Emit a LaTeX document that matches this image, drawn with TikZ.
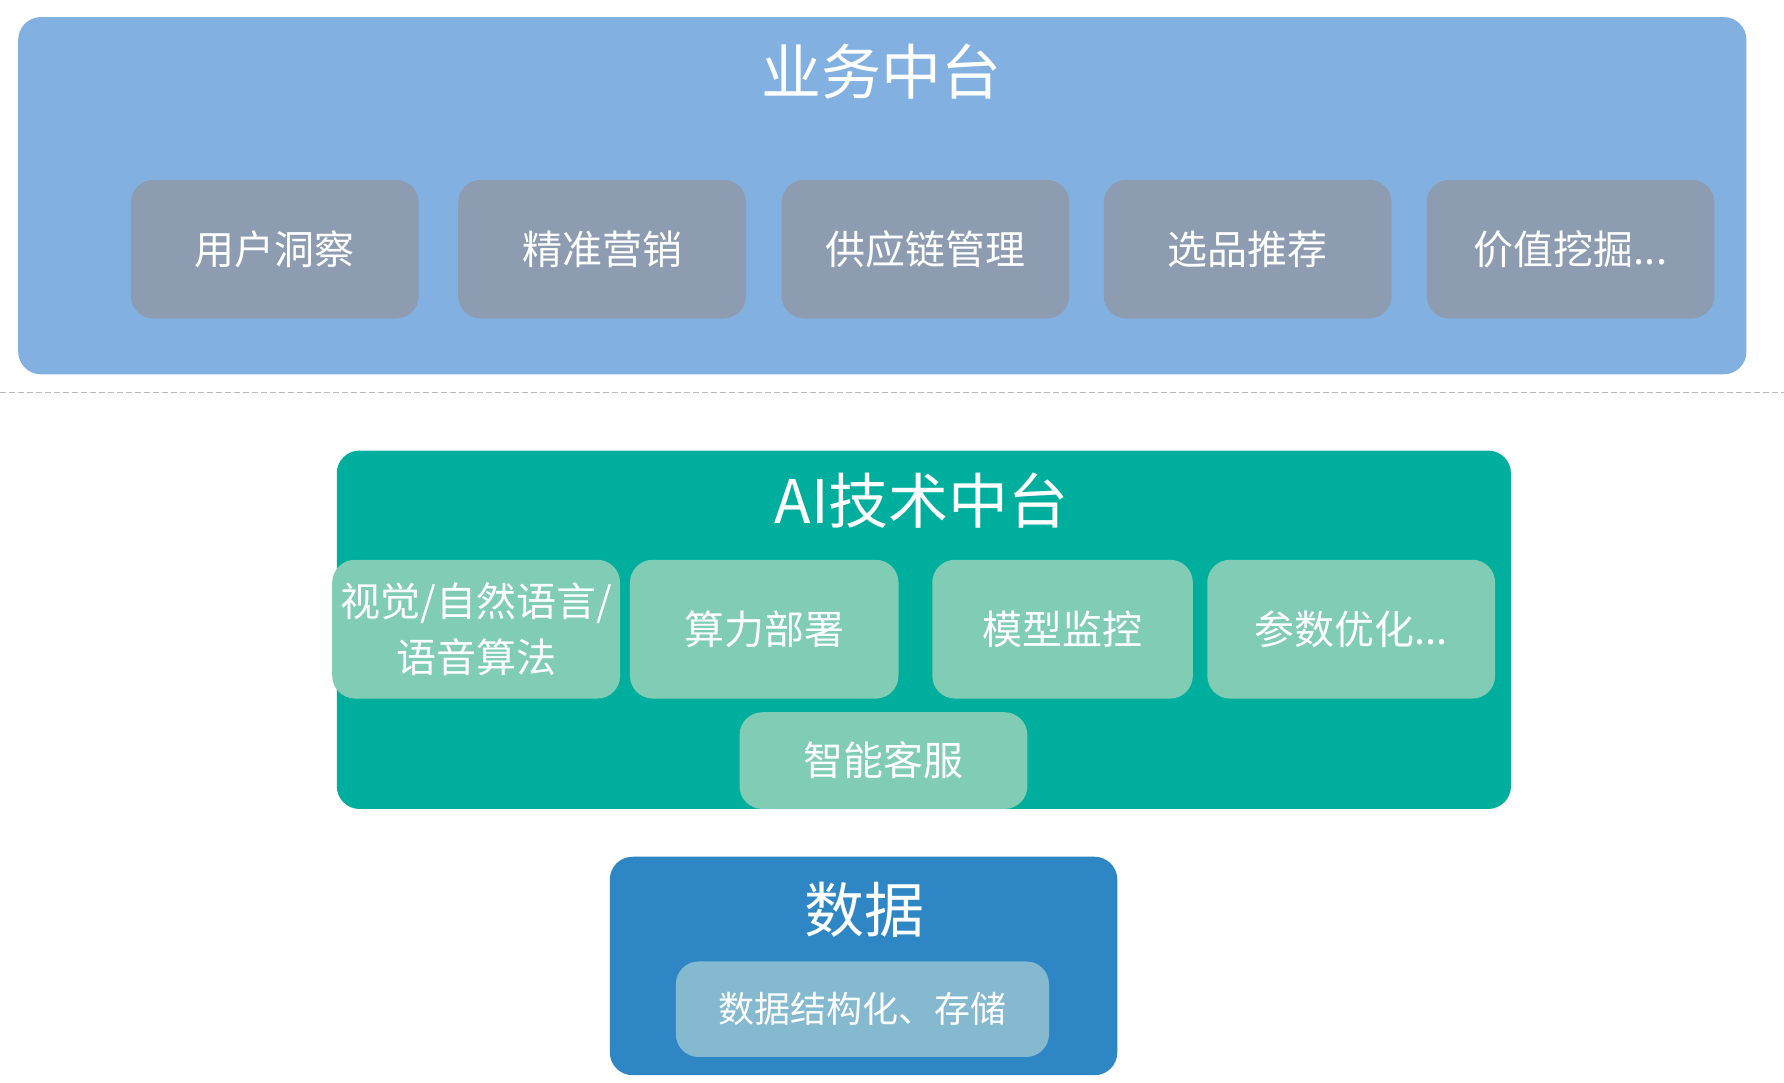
\documentclass[tikz,border=0pt]{standalone}
\usepackage{fontspec}
\setmainfont{Noto Sans CJK SC}
\usetikzlibrary{positioning}
\usepackage{xcolor}
\definecolor{bizblue}{RGB}{130,177,225}
\definecolor{bizgray}{RGB}{142,156,178}
\definecolor{aiteal}{RGB}{0,174,157}
\definecolor{aimint}{RGB}{128,204,181}
\definecolor{datablue}{RGB}{46,134,196}
\definecolor{datalight}{RGB}{132,185,207}
\definecolor{cutgray}{RGB}{185,185,185}

\begin{document}
\begin{tikzpicture}[every node/.style={text=white, inner sep=0pt},
  panel/.style={rounded corners=0.4cm, minimum width=#1},
  paneltitle/.style={font=\fontsize{30}{36}\selectfont},
  bizitem/.style={rounded corners=0.4cm, fill=bizgray, minimum width=5.06cm, minimum height=2.44cm, font=\fontsize{20}{28}\selectfont},
  aiitem/.style={rounded corners=0.4cm, fill=aimint, minimum width=#1, minimum height=2.44cm, font=\fontsize{20}{28}\selectfont, align=center}]
\useasboundingbox (0,0) rectangle (31.36,-19.02);

% business layer
\node[panel=30.38cm, fill=bizblue, minimum height=6.28cm] (biz) at (15.51,-3.44) {};
\node[paneltitle] (biztitle) at (15.5,-1.26) {业务中台};
\node[bizitem] (b1) at (4.83,-4.38) {用户洞察};
\node[bizitem, right=0.68cm of b1] (b2) {精准营销};
\node[bizitem, right=0.61cm of b2] (b3) {供应链管理};
\node[bizitem, right=0.59cm of b3] (b4) {选品推荐};
\node[bizitem, right=0.6cm of b4] (b5) {价值挖掘...};

\coordinate (cutl) at (0,-6.9);
\coordinate (cutr) at (31.36,-6.9);
\draw[cutgray, dash pattern=on 3pt off 1.5pt, line width=0.5pt] (cutl) -- (cutr);

% AI layer
\node[panel=20.64cm, fill=aiteal, minimum height=6.30cm] (ai) at (16.24,-11.07) {};
\node[paneltitle] (aititle) at (16.2,-8.8) {AI技术中台};
\node[aiitem=5.06cm] (a1) at (8.37,-11.06) {视觉/自然语言/\\语音算法};
\node[aiitem=4.72cm, right=0.16cm of a1] (a2) {算力部署};
\node[aiitem=4.58cm, right=0.58cm of a2] (a3) {模型监控};
\node[aiitem=5.06cm, right=0.24cm of a3] (a4) {参数优化...};
\node[aiitem=5.06cm, minimum height=1.70cm] (a5) at (15.53,-13.37) {智能客服};

% data layer
\node[panel=8.92cm, fill=datablue, minimum height=3.84cm] (data) at (15.18,-16.98) {};
\node[paneltitle] (datatitle) at (15.2,-16.0) {数据};
\node[rounded corners=0.4cm, fill=datalight, minimum width=6.56cm, minimum height=1.68cm, font=\fontsize{18}{24}\selectfont] (d1) at (15.16,-17.74) {数据结构化、存储};
\end{tikzpicture}
\end{document}
